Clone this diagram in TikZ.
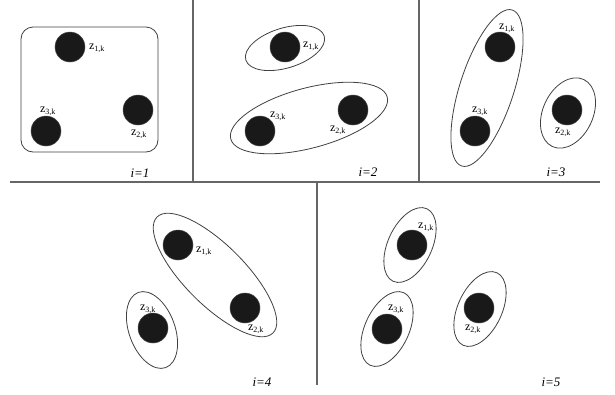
\documentclass[tikz,border=0pt]{standalone}
\usepackage{fontspec}
\setmainfont{Liberation Serif}
\usepackage{tikz}
\usetikzlibrary{positioning}

\begin{document}
\begin{tikzpicture}[x=1pt,y=1pt,
    dot/.style={circle,fill=black!90,draw=black!70,line width=0.5pt,minimum size=30pt,inner sep=0pt},
    lbl/.style={font=\fontsize{12}{13}\selectfont,inner sep=0pt},
    iter/.style={font=\fontsize{13}{14}\selectfont\itshape,inner sep=0pt},
    group/.style={draw=black!75,line width=0.8pt},
    divider/.style={draw=black!60,line width=1.1pt}]
\useasboundingbox (0,0) rectangle (615,-394);

% panel dividers
\draw[divider] (10,-182) -- (600,-182);
\draw[divider] (193,0) -- (193,-182);
\draw[divider] (419,0) -- (419,-182);
\draw[divider] (317,-182) -- (317,-385);

% i=1
\draw[group,rounded corners=12pt] (21,-27) rectangle (158,-152);
\node[dot] (a1) at (70,-47) {};
\node[dot] (a2) at (138,-110) {};
\node[dot] (a3) at (46,-131) {};
\node[lbl] (la1) at (97,-48) {z\textsubscript{1,k}};
\node[lbl] (la2) at (139,-134) {z\textsubscript{2,k}};
\node[lbl] (la3) at (48,-111) {z\textsubscript{3,k}};
\node[iter] (n1) at (140,-173) {i=1};

% i=2
\draw[group] (285,-48) ellipse [x radius=41,y radius=20,rotate=17];
\draw[group] (309,-118) ellipse [x radius=81,y radius=30,rotate=15];
\node[dot] (b1) at (285,-47) {};
\node[dot] (b2) at (353,-110) {};
\node[dot] (b3) at (260,-131) {};
\node[lbl] (lb1) at (311,-46) {z\textsubscript{1,k}};
\node[lbl] (lb2) at (338,-130) {z\textsubscript{2,k}};
\node[lbl] (lb3) at (278,-116) {z\textsubscript{3,k}};
\node[iter] (n2) at (368,-172) {i=2};

% i=3
\draw[group] (487,-88) ellipse [x radius=82,y radius=27,rotate=72];
\draw[group] (568,-113) ellipse [x radius=37,y radius=25,rotate=65];
\node[dot] (c1) at (500,-47) {};
\node[dot] (c2) at (567,-110) {};
\node[dot] (c3) at (475,-131) {};
\node[lbl] (lc1) at (507,-28) {z\textsubscript{1,k}};
\node[lbl] (lc2) at (563,-132) {z\textsubscript{2,k}};
\node[lbl] (lc3) at (480,-111) {z\textsubscript{3,k}};
\node[iter] (n3) at (556,-172) {i=3};

% i=4
\draw[group] (215,-275) ellipse [x radius=82,y radius=30,rotate=-45];
\draw[group] (152,-330) ellipse [x radius=40,y radius=23,rotate=110];
\node[dot] (d1) at (178,-245) {};
\node[dot] (d2) at (245,-308) {};
\node[dot] (d3) at (153,-328) {};
\node[lbl] (ld1) at (204,-251) {z\textsubscript{1,k}};
\node[lbl] (ld2) at (256,-329) {z\textsubscript{2,k}};
\node[lbl] (ld3) at (148,-309) {z\textsubscript{3,k}};
\node[iter] (n4) at (262,-382) {i=4};

% i=5
\draw[group] (410,-245) ellipse [x radius=40,y radius=22,rotate=65];
\draw[group] (480,-309) ellipse [x radius=40,y radius=22,rotate=65];
\draw[group] (387,-329) ellipse [x radius=40,y radius=22,rotate=65];
\node[dot] (e1) at (412,-245) {};
\node[dot] (e2) at (479,-308) {};
\node[dot] (e3) at (387,-329) {};
\node[lbl] (le1) at (426,-227) {z\textsubscript{1,k}};
\node[lbl] (le2) at (473,-329) {z\textsubscript{2,k}};
\node[lbl] (le3) at (396,-309) {z\textsubscript{3,k}};
\node[iter] (n5) at (551,-382) {i=5};

\end{tikzpicture}
\end{document}
